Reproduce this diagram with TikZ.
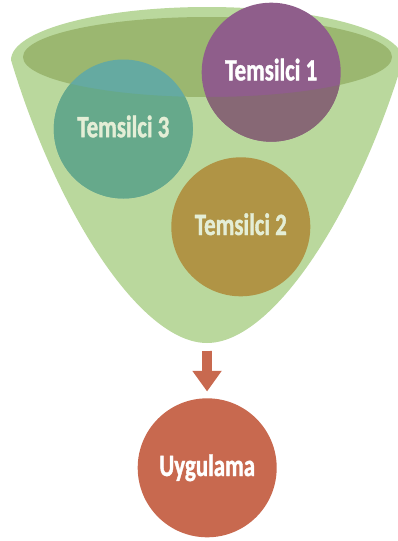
\documentclass[tikz,border=0pt]{standalone}
\usepackage{fontspec}
\setmainfont[FakeStretch=0.74, BoldFeatures={FakeBold=1.2}]{Carlito}
\usetikzlibrary{arrows.meta}
\definecolor{funnelgreen}{HTML}{BAD89D}
\definecolor{rimgreen}{HTML}{9BB770}
\definecolor{purpleup}{HTML}{8F5E8B}
\definecolor{purplelow}{HTML}{876875}
\definecolor{tealup}{HTML}{65AAA1}
\definecolor{teallow}{HTML}{66A98B}
\definecolor{goldlow}{HTML}{B09445}
\definecolor{redc}{HTML}{C8694F}
\definecolor{veiltext}{HTML}{E4EED6}
\tikzset{
  ball/.style={circle, minimum size=139pt, inner sep=0pt, draw=none},
  balltext/.style={anchor=base, font=\bfseries\fontsize{31}{32}\selectfont, inner sep=0pt},
  blockarrow/.style={draw=redc, line width=9.8pt, -{Triangle[width=28pt,length=20.7pt]}}
}
\begin{document}
\begin{tikzpicture}[x=1pt,y=-1pt]
\useasboundingbox (0,0) rectangle (397,541);
% funnel body
\fill[funnelgreen] (11,60) arc[start angle=180, end angle=360, x radius=196, y radius=53]
  .. controls (358,210) and (274,343) .. (207,343)
  .. controls (140,343) and (56,210) .. (11,60) -- cycle;
\coordinate (fbottom) at (207,343);
% inner rim
\fill[rimgreen] (207.5,57) ellipse [x radius=184.5, y radius=40];
% circles
\node[ball, fill=purpleup] (t1) at (271.2,72.2) {};
\node[ball, fill=tealup] (t3) at (123.3,129) {};
\node[ball, fill=goldlow] (t2) at (240.8,226.8) {};
% parts seen through the funnel wall
\begin{scope}
  \clip (-10,57) -- (23,57) arc[start angle=180, end angle=0, x radius=184.5, y radius=40]
    -- (410,57) -- (410,560) -- (-10,560) -- cycle;
  \fill[purplelow] (t1.center) circle (69.5);
  \fill[teallow] (t3.center) circle (69.5);
\end{scope}
% labels
\node[balltext, text=white] (l1) at ([yshift=-8.2pt]t1.center) {Temsilci 1};
\node[balltext, text=veiltext] (l3) at ([yshift=-8.2pt]t3.center) {Temsilci 3};
\node[balltext, text=veiltext] (l2) at ([yshift=-8.2pt]t2.center) {Temsilci 2};
% result
\node[ball, fill=redc] (u) at (207.2,467.8) {};
\node[balltext, text=white] (lu) at ([yshift=-8.2pt]u.center) {Uygulama};
% arrow
\draw[blockarrow, shorten <=8pt, shorten >=6.6pt] (fbottom) -- (u);
\end{tikzpicture}
\end{document}
